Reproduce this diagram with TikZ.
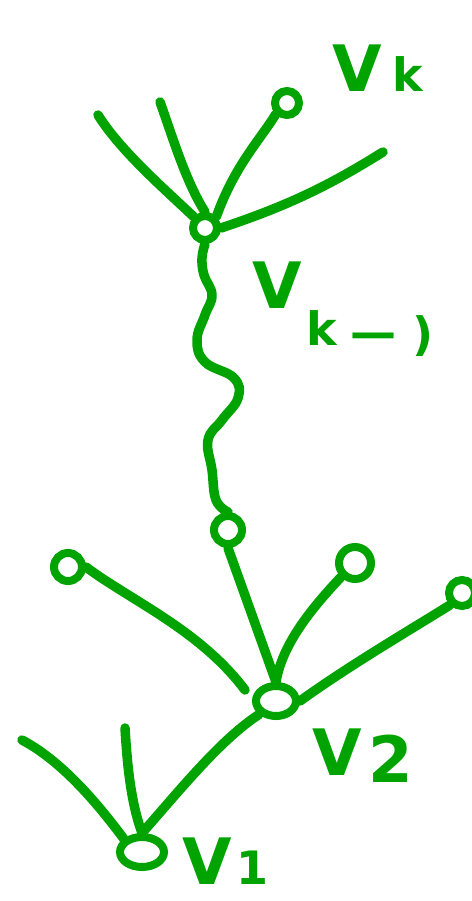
\documentclass[tikz,border=0pt]{standalone}
\usepackage{fontspec}
\setmainfont{DejaVu Sans}
\usetikzlibrary{shapes.geometric}
\definecolor{pen}{RGB}{0,163,0}
\tikzset{
  stroke/.style={draw=pen, line width=9.5pt, line cap=round, line join=round},
  vert/.style={circle, draw=pen, line width=8pt, minimum size=#1, inner sep=0pt},
  vert/.default=24pt,
  overt/.style={ellipse, draw=pen, line width=8pt, minimum width=#1, minimum height=30pt, inner sep=0pt},
  lab/.style={text=pen, font=\bfseries\fontsize{64}{64}\selectfont, inner sep=0pt, anchor=base west},
  slab/.style={text=pen, font=\bfseries\fontsize{46}{46}\selectfont, inner sep=0pt, anchor=base west},
}
\begin{document}
\begin{tikzpicture}[x=1pt,y=-1pt]
\useasboundingbox (0,0) rectangle (471,901);
% vertices
\node[vert=24pt] (vkm) at (205,228) {};
\node[vert=24pt] (vk) at (287,103) {};
\node[vert=28pt] (mid) at (228,530) {};
\node[overt=40pt] (v2) at (276,701) {};
\node[vert=28pt] (la) at (68,567) {};
\node[vert=32pt] (ra) at (355,563) {};
\node[vert=26pt] (rb) at (462,593) {};
\node[overt=44pt] (v1) at (142,852) {};
% free ends
\coordinate (t1) at (98,115);
\coordinate (t2) at (160,102);
\coordinate (t3) at (383,152);
\coordinate (le) at (245,690);
\coordinate (b1) at (22,740);
\coordinate (b2) at (125,728);
% top star
\draw[stroke] (t1) .. controls (120,150) and (160,185) .. (vkm.north west);
\draw[stroke] (t2) .. controls (172,135) and (185,180) .. (vkm.north);
\draw[stroke] (vkm.north east) .. controls (235,165) and (260,140) .. (vk.south west);
\draw[stroke] (vkm.east) .. controls (290,205) and (330,185) .. (t3);
% wavy path
\draw[stroke] plot[smooth, tension=0.7] coordinates {(vkm.south) (202,258) (204,275) (212,295) (205,315) (197,340) (205,362) (234,378) (238,398) (222,420) (208,440) (212,470) (216,500) (mid.north)};
% middle cluster
\draw[stroke] (mid.south) -- (v2.north);
\draw[stroke] (la.east) .. controls (130,600) and (200,630) .. (le);
\draw[stroke] (v2.north) .. controls (282,645) and (310,610) .. (ra.south west);
\draw[stroke] (v2.east) .. controls (350,665) and (410,630) .. (rb.south west);
% bottom cluster
\draw[stroke] (v1.north west) .. controls (95,800) and (60,760) .. (b1);
\draw[stroke] (v1.north) .. controls (130,800) and (127,760) .. (b2);
\draw[stroke] (v1.north) .. controls (180,790) and (220,740) .. (v2.south west);
% labels
\node[lab] (lk) at (332,92) {V};
\node[slab] (lkk) at (392,92) {k};
\node[lab] (lkm) at (252,308) {V};
\node[slab] (lkmk) at (306,345) {k};
\node[slab] (lkmd) at (350,348) {—};
\node[slab] (lkm1) at (412,350) {)};
\node[lab] (l2) at (312,775) {V};
\node[lab] (l2n) at (368,782) {2};
\node[lab] (l1) at (182,884) {V};
\node[slab] (l1n) at (236,884) {1};
\end{tikzpicture}
\end{document}
